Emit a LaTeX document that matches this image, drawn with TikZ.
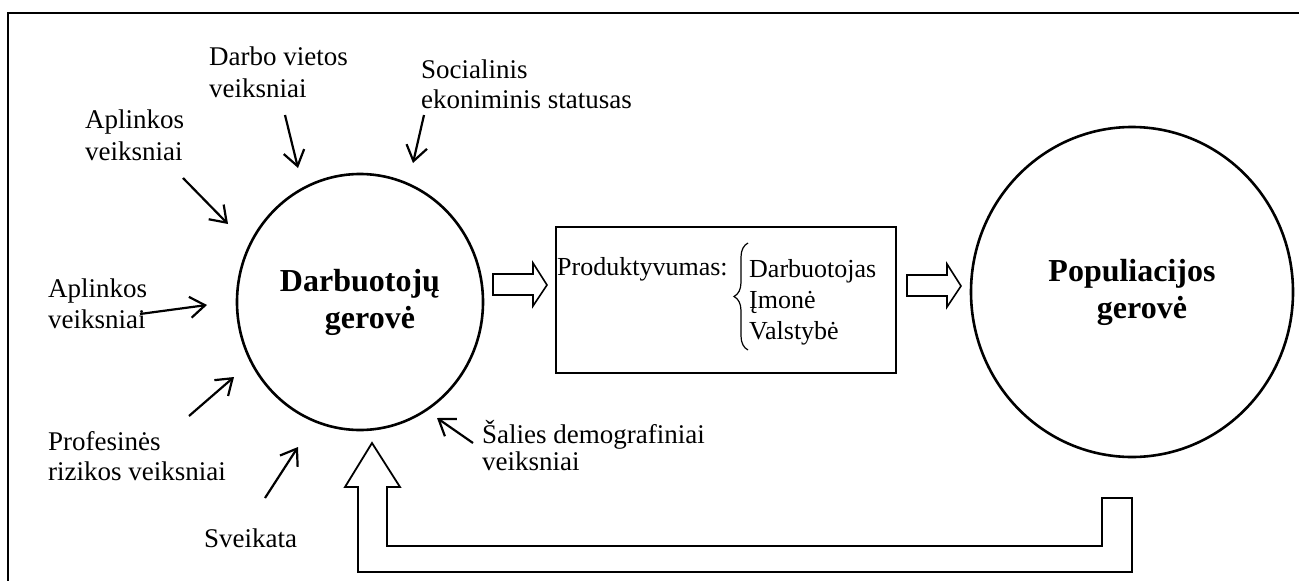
\documentclass[tikz,border=0pt]{standalone}
\usepackage{fontspec}
\setmainfont{Liberation Serif}
\usetikzlibrary{arrows.meta,shapes.geometric,decorations.pathreplacing}
\newcommand{\twolines}[2]{\begin{tabular}[t]{@{}l@{}}#1\\#2\end{tabular}}
\begin{document}
\begin{tikzpicture}[x=1pt,y=-1pt,
  lbl/.style={anchor=base west,inner sep=0pt,font=\fontsize{27}{32}\selectfont},
  thinarrow/.style={line width=2.2pt,-{Straight Barb[length=15pt,width=21pt,line width=2.2pt]}},
  blockarrow/.style={draw,line width=1.6pt,fill=white,line join=miter},
  bigcircle/.style={draw,ellipse,line width=2.6pt,inner sep=0pt,align=center,font=\fontsize{32}{37}\selectfont\bfseries},
  boxtext/.style={anchor=base west,inner sep=0pt,font=\fontsize{26}{31}\selectfont}]
\useasboundingbox (0,0) rectangle (1299,581);
\fill[white] (0,0) rectangle (1299,581);
% outer frame
\draw[line width=2pt] (8,600) -- (8,13) -- (1310,13);

% main nodes
\node[bigcircle,minimum width=246pt,minimum height=256pt] (dg) at (360,302) {Darbuotojų\\\hspace*{20pt}gerovė};
\node[bigcircle,minimum width=322pt,minimum height=330pt] (pg) at (1132,292) {Populiacijos\\\hspace*{20pt}gerovė};
\node[draw,line width=1.8pt,minimum width=340pt,minimum height=146pt,inner sep=0pt] (prod) at (726,300) {};

% box content
\node[boxtext] (pt) at (557,275) {Produktyvumas:};
\node[boxtext] (lst) at (749,277) {\begin{tabular}[t]{@{}l@{}}Darbuotojas\\Įmonė\\Valstybė\end{tabular}};
\coordinate (brb) at (748,350);
\coordinate (brt) at (748,243);
\draw[line width=1.2pt,decorate,decoration={brace,amplitude=14pt}] (brb) -- (brt);

% block arrows
\draw[blockarrow] (493,274) -- (533,274) -- (533,263) -- (547,285) -- (533,306) -- (533,295) -- (493,295) -- cycle;
\draw[blockarrow] (907,275) -- (947,275) -- (947,264) -- (961,286) -- (947,307) -- (947,296) -- (907,296) -- cycle;

% feedback arrow
\draw[line width=1.8pt,line join=miter] (372,443) -- (400,487) -- (387,487) -- (387,546) -- (1102,546) -- (1102,498) -- (1132,498) -- (1132,572) -- (358,572) -- (358,487) -- (345,487) -- cycle;

% labels
\node[lbl] (l1) at (209,65) {\twolines{Darbo vietos}{veiksniai}};
\node[lbl] (l2) at (85,128) {\twolines{Aplinkos}{veiksniai}};
\node[lbl,font=\fontsize{27}{30}\selectfont] (l3) at (421,78) {\twolines{Socialinis}{ekoniminis statusas}};
\node[lbl,font=\fontsize{27}{31}\selectfont] (l4) at (48,297) {\twolines{Aplinkos}{veiksniai}};
\node[lbl,font=\fontsize{27}{30}\selectfont] (l5) at (48,450) {\twolines{Profesinės}{rizikos veiksniai}};
\node[lbl] (l6) at (204,547) {Sveikata};
\node[lbl,font=\fontsize{27}{27}\selectfont] (l7) at (482,443) {\twolines{Šalies demografiniai}{veiksniai}};

% small arrows
\coordinate (a1s) at (285,115); \coordinate (a1e) at (298,168);
\coordinate (a2s) at (183,178); \coordinate (a2e) at (228,224);
\coordinate (a3s) at (424,115); \coordinate (a3e) at (413,163);
\coordinate (a4s) at (140,314); \coordinate (a4e) at (207,305);
\coordinate (a5s) at (189,416); \coordinate (a5e) at (234,377);
\coordinate (a6s) at (265,498); \coordinate (a6e) at (298,447);
\coordinate (a7s) at (473,443); \coordinate (a7e) at (437,418);
\foreach \i in {1,...,7} {\draw[thinarrow] (a\i s) -- (a\i e);}
\end{tikzpicture}
\end{document}
